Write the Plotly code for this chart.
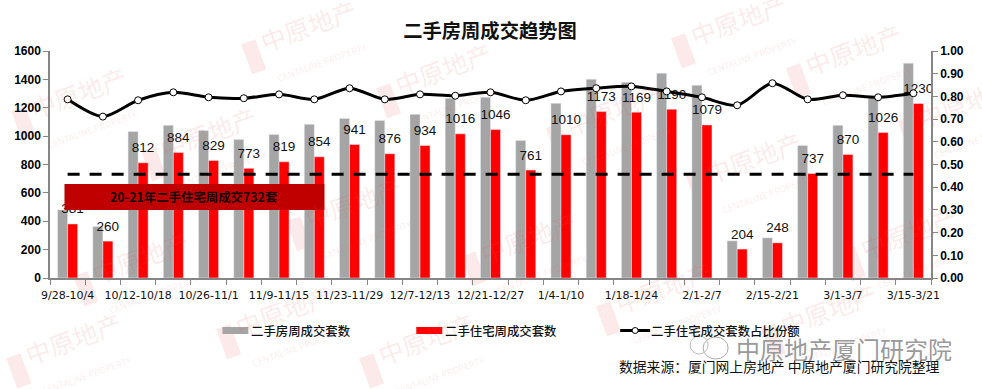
import math
import plotly.graph_objects as go

weeks = ["9/28-10/4","10/5-10/11","10/12-10/18","10/19-10/25","10/26-11/1","11/2-11/8","11/9-11/15","11/16-11/22",
         "11/23-11/29","11/30-12/6","12/7-12/13","12/14-12/20","12/21-12/27","12/28-1/3","1/4-1/10","1/11-1/17",
         "1/18-1/24","1/25-1/31","2/1-2/7","2/8-2/14","2/15-2/21","2/22-2/28","3/1-3/7","3/8-3/14","3/15-3/21"]
all_homes = [480,363,1033,1076,1040,977,1012,1083,1125,1111,1154,1267,1274,970,1231,1401,1380,1444,1359,262,283,934,1076,1276,1514]
residential = [381,260,812,884,829,773,819,854,941,876,934,1016,1046,761,1010,1173,1169,1190,1079,204,248,737,870,1026,1230]
ratio = [.787,.711,.783,.818,.796,.792,.809,.787,.836,.787,.809,.803,.818,.783,.822,.836,.844,.822,.796,.761,.858,.787,.805,.796,.814]
average = [732]*25

W, H = 982, 389
L, R, T, B = 49.5, 51, 51, 111
PW = W - L - R
PH = H - T - B
xs = list(range(len(weeks)))
fx = lambda px: (px - L) / PW
fy = lambda py: (H - B - py) / PH

fig = go.Figure()
fig.add_bar(x=xs, y=all_homes, name="二手房周成交套数", marker_color="#A5A5A5")
fig.add_bar(x=xs, y=residential, name="二手住宅周成交套数", marker_color="#FF0000")
bar_shift = 5 / (PW / len(weeks))
fig.add_scatter(x=[i + bar_shift for i in xs], y=[v + 98 for v in residential], mode="text",
                text=[str(v) for v in residential], textposition="middle center",
                textfont=dict(family="Liberation Sans", size=13.5, color="#111"), showlegend=False, hoverinfo="skip")
fig.add_scatter(x=xs, y=average, mode="lines", line=dict(color="black", width=3, dash="12px,10px"), showlegend=False)
fig.add_scatter(x=xs, y=ratio, yaxis="y2", mode="lines+markers", name="二手住宅成交套数占比份额",
                line=dict(color="black", width=3, shape="spline", smoothing=0.8),
                marker=dict(size=7, color="white", line=dict(color="black", width=1)))

shapes, ann = [], []

def rotated_rect(cx, cy, w, h, deg):
    a = math.radians(deg)
    pts = [(-w/2,-h/2),(w/2,-h/2),(w/2,h/2),(-w/2,h/2)]
    out = [(cx+x*math.cos(a)-y*math.sin(a), cy+x*math.sin(a)+y*math.cos(a)) for x,y in pts]
    return "M" + " L".join(f"{fx(x):.5f},{fy(y):.5f}" for x,y in out) + " Z"

def note(px, py, text, font, xanchor="center", **kw):
    ann.append(dict(x=fx(px), y=fy(py), xref="paper", yref="paper", xanchor=xanchor, yanchor="middle",
                    showarrow=False, text=text, font=font, **kw))

WM = "rgba(232,90,90,0.13)"
wm_centers = [(305,38),(735,32),(75,105),(205,145),(440,82),(610,122),(850,62),(962,115),
              (350,215),(137,270),(525,250),(750,170),(905,245),(280,323),(660,300),(825,322),(70,352),(423,352)]
for cx, cy in wm_centers:
    a = math.radians(-20)
    lx, ly = cx - 55*math.cos(a), cy - 55*math.sin(a)
    shapes.append(dict(type="path", xref="paper", yref="paper", path=rotated_rect(lx, ly, 15, 32, -20),
                       fillcolor=WM, line_width=0, layer="below"))
    note(cx+8, cy, '中原地产<br><span style="font-size:9px">CENTALINE PROPERTY</span>',
         dict(family="Noto Sans CJK SC", size=25, color=WM), textangle=-20)

# banner
shapes.append(dict(type="rect", xref="paper", yref="paper", x0=fx(64), x1=fx(324), y0=fy(210), y1=fy(184),
                   fillcolor="#C00000", line_width=0, layer="above"))
note(194, 197, "<b>20-21年二手住宅周成交732套</b>", dict(family="Noto Sans CJK SC", size=12.4, color="#1a0000"))

# legend
shapes.append(dict(type="rect", xref="paper", yref="paper", x0=fx(222), x1=fx(248), y0=fy(334), y1=fy(327), fillcolor="#A5A5A5", line_width=0, layer="above"))
shapes.append(dict(type="rect", xref="paper", yref="paper", x0=fx(416), x1=fx(442), y0=fy(334), y1=fy(327), fillcolor="#FF0000", line_width=0, layer="above"))
shapes.append(dict(type="line", xref="paper", yref="paper", x0=fx(620), x1=fx(650), y0=fy(330.5), y1=fy(330.5), line=dict(color="black", width=3), layer="above"))
shapes.append(dict(type="circle", xref="paper", yref="paper", x0=fx(632), x1=fx(638), y0=fy(333.5), y1=fy(327.5), fillcolor="white", line=dict(color="black", width=1), layer="above"))
for x0, t in [(249, "二手房周成交套数"), (443, "二手住宅周成交套数"), (649, "二手住宅成交套数占比份额")]:
    note(x0, 330.5, t, dict(family="Noto Sans CJK SC", size=12.4, color="#111", weight=500), xanchor="left")

# account mark
shapes.append(dict(type="circle", xref="paper", yref="paper", x0=fx(703), x1=fx(728), y0=fy(359), y1=fy(337), fillcolor="white", line=dict(color="#aaa", width=1), layer="above"))
shapes.append(dict(type="circle", xref="paper", yref="paper", x0=fx(690), x1=fx(708), y0=fy(354), y1=fy(336), fillcolor="rgba(255,255,255,0)", line=dict(color="#bbb", width=1), layer="above"))
note(734, 348, "中原地产厦门研究院", dict(family="Noto Sans CJK SC", size=24, color="#9a9a9a"), xanchor="left")
note(617, 366, "数据来源：厦门网上房地产 中原地产厦门研究院整理", dict(family="Noto Sans CJK SC", size=13.8, color="#111"), xanchor="left")

axis_col = "#868686"
tick_font = dict(family="Liberation Sans", size=12, color="black", weight="bold")
fig.update_layout(
    width=W, height=H, margin=dict(l=L, r=R, t=T, b=B, autoexpand=False),
    paper_bgcolor="white", plot_bgcolor="rgba(0,0,0,0)", showlegend=False, hovermode=False,
    barmode="group", bargap=0.43, bargroupgap=0,
    title=dict(text="<b>二手房周成交趋势图</b>", x=490/W, xanchor="center", y=1-31/H, yanchor="middle",
               font=dict(family="Noto Sans CJK SC", size=19.3, color="#111")),
    xaxis=dict(range=[-0.5, len(weeks)-0.5], tickmode="array", tickvals=xs[::2], ticktext=weeks[::2], tickangle=0,
               ticks="outside", ticklen=0, tickcolor=axis_col, showgrid=False, zeroline=False,
               showline=True, linecolor=axis_col, linewidth=1.5, ticklabelstandoff=6,
               tickfont=dict(family="DejaVu Sans", size=11, color="#111"),
               minor=dict(ticks="outside", ticklen=5, tickcolor=axis_col, tick0=-0.5, dtick=1, showgrid=False)),
    yaxis=dict(range=[0,1600], dtick=200, ticks="outside", ticklen=5, tickcolor=axis_col, showgrid=False, zeroline=False,
               showline=True, linecolor=axis_col, linewidth=1.5, tickfont=tick_font),
    yaxis2=dict(range=[0,1], dtick=0.1, tickformat=".2f", overlaying="y", side="right", ticks="outside", ticklen=5,
                tickcolor=axis_col, showgrid=False, zeroline=False, showline=True, linecolor=axis_col, linewidth=1.5,
                tickfont=tick_font),
    shapes=shapes, annotations=ann,
)
fig.write_html("out.html", post_script="document.body.style.margin='0';", config={"displayModeBar": False})
